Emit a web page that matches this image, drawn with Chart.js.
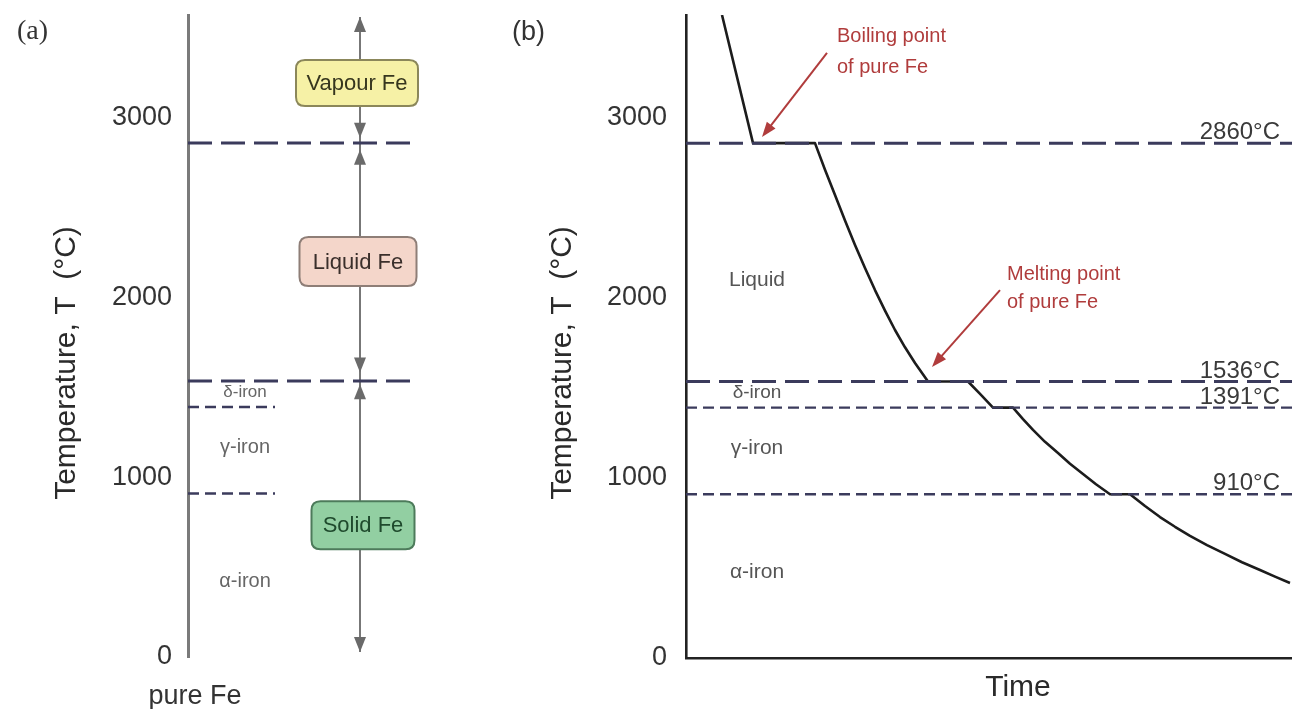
<!DOCTYPE html>
<html><head><meta charset="utf-8">
<script src="https://cdn.jsdelivr.net/npm/chart.js@4"></script>
<style>
html,body{margin:0;padding:0;background:#fff;}
#wrap{position:relative;width:1292px;height:709px;overflow:hidden;background:#fff;}
#ca{position:absolute;left:0;top:0;}
#cb{position:absolute;left:480px;top:0;}
</style></head><body>
<div id="wrap"><canvas id="ca" width="480" height="709"></canvas><canvas id="cb" width="812" height="709"></canvas></div>
<script>
// ---------- data ----------
const tempTicks = [0, 1000, 2000, 3000];
const tempMax = 3572;
const transitionTemps = [2860, 1536, 1391, 910];
const transitionLabels = ['2860°C', '1536°C', '1391°C', '910°C'];
const coolingTime = [36, 67, 129, 139, 149, 159, 169, 179, 189, 199, 209, 219, 229, 242, 282, 295, 307, 327, 337, 347, 359, 372, 384, 397, 410, 424, 444, 459, 474, 489, 504, 521, 539, 556, 574, 589, 604];
const coolingTemp = [3572, 2860, 2860, 2712, 2572, 2430, 2294, 2166, 2044, 1930, 1822, 1726, 1639, 1536, 1536, 1462, 1391, 1391, 1327, 1267, 1201, 1139, 1079, 1022, 965, 910, 910, 844, 783, 729, 678, 627, 578, 532, 489, 452, 417];
const timeMax = 606;
const phaseNamesA = ['δ-iron', 'γ-iron', 'α-iron'];
const phaseTempsA = [1472, 1167, 422];
const phaseNamesB = ['Liquid', 'δ-iron', 'γ-iron', 'α-iron'];
const phaseTempsB = [2100, 1472, 1167, 478];
const stateNames = ['Vapour Fe', 'Liquid Fe', 'Solid Fe'];
const stateTemps = [3194, 2200, 733];
const arrowTipTemps = [3561, 2889, 2822, 1583, 1517, 28];
const arrowDirs = ['up', 'down', 'up', 'down', 'up', 'down'];
const noteLines = [['Boiling point', 'of pure Fe'], ['Melting point', 'of pure Fe']];
const noteTextTime = [151, 321];
const noteTextTemp = [3450, 2128];
const noteTipTime = [76, 246];
const noteTipTemp = [2894, 1617];
const noteTailTime = [141, 314];
const noteTailTemp = [3361, 2044];

// ---------- helpers ----------
const SANS = "'Liberation Sans', Arial, sans-serif";
function head(ctx, x, y, dx, dy, len, w, color) {
  const n = Math.hypot(dx, dy); const ux = dx / n, uy = dy / n;
  const bx = x - ux * len, by = y - uy * len;
  ctx.fillStyle = color; ctx.beginPath();
  ctx.moveTo(x, y);
  ctx.lineTo(bx - uy * w / 2, by + ux * w / 2);
  ctx.lineTo(bx + uy * w / 2, by - ux * w / 2);
  ctx.closePath(); ctx.fill();
}
function rrect(ctx, x, y, w, h, r) {
  ctx.beginPath();
  ctx.moveTo(x + r, y); ctx.lineTo(x + w - r, y); ctx.quadraticCurveTo(x + w, y, x + w, y + r);
  ctx.lineTo(x + w, y + h - r); ctx.quadraticCurveTo(x + w, y + h, x + w - r, y + h);
  ctx.lineTo(x + r, y + h); ctx.quadraticCurveTo(x, y + h, x, y + h - r);
  ctx.lineTo(x, y + r); ctx.quadraticCurveTo(x, y, x + r, y); ctx.closePath();
}
function yAxis(width, pad, borderColor, borderWidth) {
  return {
    type: 'linear', min: 0, max: tempMax,
    grid: { display: false, drawTicks: false },
    border: { display: true, color: borderColor, width: borderWidth },
    ticks: { padding: pad, color: '#333', font: { family: SANS, size: 27 }, callback: v => String(v) },
    afterBuildTicks: s => { s.ticks = tempTicks.map(v => ({ value: v })); },
    afterFit: s => { s.width = width; s.paddingTop = 0; s.paddingBottom = 0; }
  };
}
function lineDS(pts, color, width, dash) {
  return { data: pts, borderColor: color, borderWidth: width, borderDash: dash || [], pointRadius: 0, fill: false, tension: 0 };
}
const DASHC = '#3b3b5c';

// ---------- panel (a) ----------
const dsA = [];
transitionTemps.forEach((t, i) => {
  const long = i < 2;
  dsA.push(lineDS([{ x: 0, y: t }, { x: long ? 230 : 87, y: t }], DASHC, long ? 3 : 2.4, long ? [24, 9] : [11, 6]));
});
dsA.push(lineDS([{ x: 172, y: arrowTipTemps[0] }, { x: 172, y: arrowTipTemps[5] }], '#777', 2));

const boxW = [122, 117, 103], boxH = [46, 49, 48], boxX = [169, 170, 175];
const boxFill = ['#f6f1a6', '#f4d6ca', '#92cfa2'];
const boxStroke = ['#8b875a', '#8e7e77', '#4d7b5b'];
const boxText = ['#36361e', '#3a2f2b', '#1f4a2d'];

const pluginA = {
  id: 'pa',
  afterDatasetsDraw(chart) {
    const ctx = chart.ctx, xs = chart.scales.x, ys = chart.scales.y;
    ctx.save();
    const ax = xs.getPixelForValue(172);
    arrowTipTemps.forEach((t, i) => {
      head(ctx, ax, ys.getPixelForValue(t), 0, arrowDirs[i] === 'up' ? -1 : 1, 15, 12, '#6a6a6a');
    });
    stateNames.forEach((n, i) => {
      const cx = xs.getPixelForValue(boxX[i]), cy = ys.getPixelForValue(stateTemps[i]);
      rrect(ctx, cx - boxW[i] / 2, cy - boxH[i] / 2, boxW[i], boxH[i], 9);
      ctx.fillStyle = boxFill[i]; ctx.fill();
      ctx.lineWidth = 2; ctx.strokeStyle = boxStroke[i]; ctx.stroke();
      ctx.fillStyle = boxText[i]; ctx.font = '22px ' + SANS;
      ctx.textAlign = 'center'; ctx.textBaseline = 'middle';
      ctx.fillText(n, cx, cy + 1);
    });
    ctx.fillStyle = '#666'; ctx.textAlign = 'center'; ctx.textBaseline = 'middle';
    phaseNamesA.forEach((n, i) => {
      ctx.font = (i === 0 ? '17px ' : '20px ') + SANS;
      ctx.fillText(n, xs.getPixelForValue(57), ys.getPixelForValue(phaseTempsA[i]));
    });
    ctx.restore();
  },
  afterDraw(chart) {
    const ctx = chart.ctx;
    ctx.save();
    ctx.fillStyle = '#333'; ctx.textBaseline = 'middle'; ctx.textAlign = 'left';
    ctx.font = "28px 'Liberation Serif', 'DejaVu Serif', serif";
    ctx.fillText('(a)', 17, 32);
    ctx.font = '27px ' + SANS; ctx.textAlign = 'center';
    ctx.fillText('pure Fe', 195, 697);
    ctx.translate(67, 363); ctx.rotate(-Math.PI / 2);
    ctx.font = '30px ' + SANS; ctx.fillStyle = '#2a2a2a';
    ctx.fillText('Temperature, T  (°C)', 0, 0);
    ctx.restore();
  }
};

new Chart(document.getElementById('ca'), {
  type: 'line',
  data: { datasets: dsA },
  options: {
    responsive: false, animation: false, devicePixelRatio: 1,
    layout: { padding: { top: 15, bottom: 52, left: 0, right: 10 } },
    plugins: { legend: { display: false }, tooltip: { enabled: false } },
    scales: {
      x: { type: 'linear', min: 0, max: 282, display: false },
      y: yAxis(188, 16, '#7a7a7a', 3)
    }
  },
  plugins: [pluginA]
});

// ---------- panel (b) ----------
const dsB = [];
transitionTemps.forEach((t, i) => {
  const long = i < 2;
  dsB.push(lineDS([{ x: 0, y: t }, { x: timeMax, y: t }], DASHC, long ? 3 : 2.4, long ? [24, 9] : [11, 6]));
});
dsB.push({
  data: coolingTime.map((x, i) => ({ x, y: coolingTemp[i] })),
  borderColor: '#1c1c1c', borderWidth: 2.6, pointRadius: 0, fill: false,
  tension: 0, borderJoinStyle: 'round'
});

const pluginB = {
  id: 'pb',
  afterDatasetsDraw(chart) {
    const ctx = chart.ctx, xs = chart.scales.x, ys = chart.scales.y;
    ctx.save();
    ctx.fillStyle = '#3a3a3a'; ctx.font = '24px ' + SANS;
    ctx.textAlign = 'right'; ctx.textBaseline = 'alphabetic';
    transitionLabels.forEach((l, i) => {
      ctx.fillText(l, 800, ys.getPixelForValue(transitionTemps[i]) - 4);
    });
    ctx.fillStyle = '#555'; ctx.font = '21px ' + SANS;
    ctx.textAlign = 'center'; ctx.textBaseline = 'middle';
    phaseNamesB.forEach((n, i) => {
      ctx.font = (i === 1 ? '19px ' : '21px ') + SANS;
      ctx.fillText(n, xs.getPixelForValue(71), ys.getPixelForValue(phaseTempsB[i]));
    });
    const red = '#b03c3c';
    noteLines.forEach((lines, i) => {
      const tx = xs.getPixelForValue(noteTailTime[i]), ty = ys.getPixelForValue(noteTailTemp[i]);
      const hx = xs.getPixelForValue(noteTipTime[i]), hy = ys.getPixelForValue(noteTipTemp[i]);
      const dx = hx - tx, dy = hy - ty, n = Math.hypot(dx, dy);
      ctx.strokeStyle = red; ctx.lineWidth = 2;
      ctx.beginPath(); ctx.moveTo(tx, ty); ctx.lineTo(hx - dx / n * 10, hy - dy / n * 10); ctx.stroke();
      head(ctx, hx, hy, dx, dy, 15, 11, red);
      ctx.fillStyle = red; ctx.font = '20px ' + SANS; ctx.textAlign = 'left'; ctx.textBaseline = 'middle';
      const x0 = xs.getPixelForValue(noteTextTime[i]), y0 = ys.getPixelForValue(noteTextTemp[i]);
      lines.forEach((l, k) => ctx.fillText(l, x0, y0 + k * (i === 0 ? 31 : 28)));
    });
    ctx.restore();
  },
  afterDraw(chart) {
    const ctx = chart.ctx;
    ctx.save();
    ctx.fillStyle = '#333'; ctx.textBaseline = 'middle'; ctx.textAlign = 'left';
    ctx.font = '27px ' + SANS;
    ctx.fillText('(b)', 32, 33);
    ctx.textAlign = 'center'; ctx.font = '30px ' + SANS; ctx.fillStyle = '#2a2a2a';
    ctx.fillText('Time', 538, 688);
    ctx.translate(83, 363); ctx.rotate(-Math.PI / 2);
    ctx.fillText('Temperature, T  (°C)', 0, 0);
    ctx.restore();
  }
};

new Chart(document.getElementById('cb'), {
  type: 'line',
  data: { datasets: dsB },
  options: {
    responsive: false, animation: false, devicePixelRatio: 1,
    layout: { padding: { top: 15, bottom: 0, left: 0, right: 0 } },
    plugins: { legend: { display: false }, tooltip: { enabled: false } },
    scales: {
      x: {
        type: 'linear', min: 0, max: timeMax,
        grid: { display: false, drawTicks: false },
        border: { display: true, color: '#222', width: 2.6 },
        ticks: { display: false },
        afterFit: s => { s.height = 51; s.paddingLeft = 0; s.paddingRight = 0; }
      },
      y: yAxis(206, 19, '#222', 2.6)
    }
  },
  plugins: [pluginB]
});
</script>
</body></html>
